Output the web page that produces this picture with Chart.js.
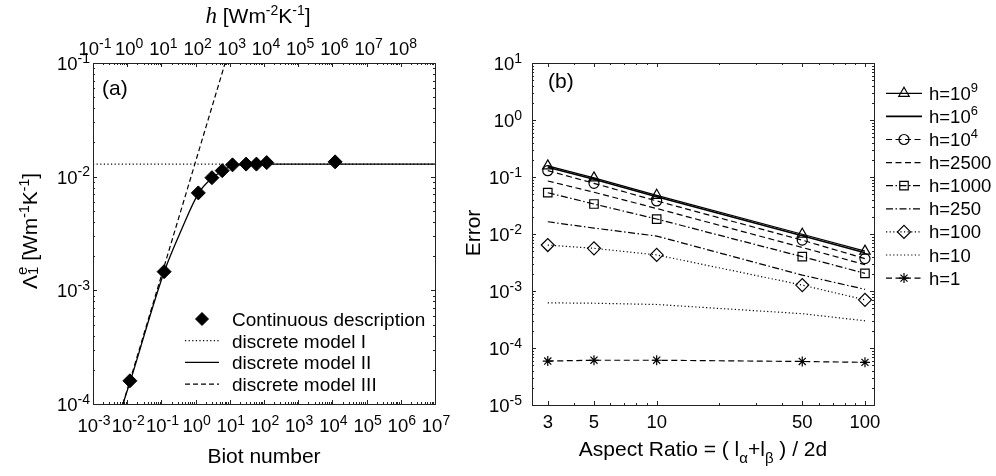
<!DOCTYPE html>
<html lang="en">
<head>
<meta charset="UTF-8">
<title>Biot number / aspect ratio error</title>
<style>
  body { margin: 0; background: #fff; }
  #wrap { position: relative; width: 996px; height: 476px; }
  #chartA { position: absolute; left: 0; top: 0; }
  #chartB { position: absolute; left: 455px; top: 0; }
</style>
</head>
<body>
<div id="wrap">
  <canvas id="chartA" width="455" height="476"></canvas>
  <canvas id="chartB" width="541" height="476"></canvas>
</div>
<script src="https://cdn.jsdelivr.net/npm/chart.js@4.4.0/dist/chart.umd.min.js"></script>
<script>
// ---- panel (a) data ----
var biotPoints   = [0.012, 0.12, 1.2, 3, 6, 12, 30, 60, 120, 12000];
var lambdaPoints = [1.6e-4, 1.46e-3, 7.2e-3, 9.8e-3, 1.13e-2, 1.27e-2, 1.29e-2, 1.29e-2, 1.33e-2, 1.35e-2];
var model1Biot   = [1e-3, 1e7];
var model1Lambda = [1.29e-2, 1.29e-2];
var model2Biot   = [0.0075, 0.012, 0.12, 0.4, 1.2, 3, 6, 12, 30, 60, 120, 1e7];
var model2Lambda = [1e-4, 1.55e-4, 1.45e-3, 3.5e-3, 7.1e-3, 9.7e-3, 1.12e-2, 1.25e-2, 1.28e-2, 1.29e-2, 1.29e-2, 1.29e-2];
var model3Biot   = [0.0075, 7.3];
var model3Lambda = [1e-4, 1e-1];
var legendA = ['Continuous description', 'discrete model I', 'discrete model II', 'discrete model III'];

var biotExp   = [-3, -2, -1, 0, 1, 2, 3, 4, 5, 6, 7];
var hExp      = [-1, 0, 1, 2, 3, 4, 5, 6, 7, 8];
var lambdaExp = [-1, -2, -3, -4];

// ---- panel (b) data ----
var aspectRatio = [3, 5, 10, 50, 100];
var err_h1e9  = [0.157, 0.0965, 0.0477, 0.0099, 0.0050];
var err_h1e6  = [0.148, 0.091, 0.045, 0.0093, 0.0047];
var err_h1e4  = [0.129, 0.0775, 0.038, 0.0078, 0.0037];
var err_h2500 = [0.085, 0.054, 0.028, 0.0058, 0.0029];
var err_h1000 = [0.053, 0.0336, 0.0183, 0.0040, 0.00204];
var err_h250  = [0.0164, 0.0127, 0.0092, 0.0019, 0.00107];
var err_h100  = [0.0064, 0.0056, 0.0043, 0.00127, 0.0007];
var err_h10   = [6.2e-4, 6.1e-4, 5.8e-4, 4.0e-4, 3.0e-4];
var err_h1    = [5.9e-5, 6.1e-5, 6.1e-5, 5.8e-5, 5.6e-5];
var aspectTicks = [3, 5, 10, 50, 100];
var errorExp = [1, 0, -1, -2, -3, -4, -5];

var FONT = '"Liberation Sans", Arial, Helvetica, sans-serif';
var TICK = 18.5;

function pairs(xs, ys) {
    return xs.map(function (x, i) { return {x: x, y: ys[i]}; });
}

function setFont(ctx, p) {
    ctx.font = (p.st || '') + ' ' + p.s + 'px ' + (p.fam || FONT);
}

// draws text made of parts (normal / super / subscript)
function rich(ctx, parts, x, y, align) {
    var w = 0;
    parts.forEach(function (p) {
        setFont(ctx, p);
        p.w = ctx.measureText(p.t).width;
        if (!p.keep) w += p.w;
    });
    var cx = align === 'center' ? x - w / 2 : (align === 'right' ? x - w : x);
    ctx.textAlign = 'left';
    ctx.textBaseline = 'alphabetic';
    parts.forEach(function (p) {
        setFont(ctx, p);
        ctx.fillText(p.t, cx, y + (p.dy || 0));
        if (!p.keep) cx += p.w;
    });
}

function pow10(e, size) {
    return [{t: '10', s: size}, {t: String(e), s: 14, dy: -7.5}];
}

// "h=10^9" -> parts
function labelParts(str, size) {
    var k = str.indexOf('^');
    if (k < 0) return [{t: str, s: size}];
    return [{t: str.slice(0, k), s: size}, {t: str.slice(k + 1), s: size * 0.7, dy: -size * 0.42}];
}

function logRange(min, max) {
    var major = [], minor = [];
    for (var e = Math.floor(Math.log10(min)) - 1; e <= Math.ceil(Math.log10(max)); e++) {
        for (var m = 1; m < 10; m++) {
            var v = m * Math.pow(10, e);
            if (v < min * 0.999 || v > max * 1.001) continue;
            (m === 1 ? major : minor).push(v);
        }
    }
    return {major: major, minor: minor};
}

function ticksX(ctx, scale, values, len, a, top, bottom) {
    ctx.beginPath();
    values.forEach(function (v) {
        var p = Math.round(scale.getPixelForValue(v)) + 0.5;
        if (bottom) { ctx.moveTo(p, a.bottom); ctx.lineTo(p, a.bottom - len); }
        if (top) { ctx.moveTo(p, a.top); ctx.lineTo(p, a.top + len); }
    });
    ctx.stroke();
}

function ticksY(ctx, scale, values, len, a) {
    ctx.beginPath();
    values.forEach(function (v) {
        var p = Math.round(scale.getPixelForValue(v)) + 0.5;
        ctx.moveTo(a.left, p); ctx.lineTo(a.left + len, p);
        ctx.moveTo(a.right, p); ctx.lineTo(a.right - len, p);
    });
    ctx.stroke();
}

function drawBox(ctx, a) {
    ctx.strokeStyle = '#222';
    ctx.lineWidth = 1;
    ctx.strokeRect(Math.round(a.left) + 0.5, Math.round(a.top) + 0.5,
        Math.round(a.right - a.left), Math.round(a.bottom - a.top));
}

function drawMarker(ctx, style, x, y, r, fill) {
    ctx.beginPath();
    if (style === 'circle') {
        ctx.arc(x, y, r, 0, Math.PI * 2);
    } else if (style === 'triangle') {
        ctx.moveTo(x, y - r); ctx.lineTo(x + 0.866 * r, y + 0.5 * r); ctx.lineTo(x - 0.866 * r, y + 0.5 * r); ctx.closePath();
    } else if (style === 'rect') {
        var s = r * Math.SQRT1_2;
        ctx.rect(x - s, y - s, 2 * s, 2 * s);
    } else if (style === 'rectRot') {
        ctx.moveTo(x - r, y); ctx.lineTo(x, y - r); ctx.lineTo(x + r, y); ctx.lineTo(x, y + r); ctx.closePath();
    } else if (style === 'star') {
        for (var k = 0; k < 4; k++) {
            var ang = k * Math.PI / 4;
            ctx.moveTo(x - Math.cos(ang) * r, y - Math.sin(ang) * r);
            ctx.lineTo(x + Math.cos(ang) * r, y + Math.sin(ang) * r);
        }
    }
    if (fill) ctx.fill();
    ctx.stroke();
}

function legendLine(ctx, ds, x1, x2, y) {
    ctx.save();
    ctx.strokeStyle = '#000';
    ctx.lineWidth = ds.borderWidth || 1;
    ctx.setLineDash(ds.borderDash || []);
    ctx.beginPath(); ctx.moveTo(x1, y); ctx.lineTo(x2, y); ctx.stroke();
    ctx.restore();
}

// ---------- panel (a) ----------
var decoA = {
    id: 'decoA',
    afterDraw: function (chart) {
        var ctx = chart.ctx, a = chart.chartArea;
        var x = chart.scales.x, x2 = chart.scales.x2, y = chart.scales.y;
        ctx.save();
        ctx.fillStyle = '#000';
        drawBox(ctx, a);
        ctx.lineWidth = 1;
        var bx = logRange(x.min, x.max), hx = logRange(x2.min, x2.max), ly = logRange(y.min, y.max);
        ticksX(ctx, x, bx.major, 4, a, false, true);
        ticksX(ctx, x, bx.minor, 2, a, false, true);
        ticksX(ctx, x2, hx.major, 4, a, true, false);
        ticksX(ctx, x2, hx.minor, 2, a, true, false);
        ticksY(ctx, y, ly.major, 4, a);
        ticksY(ctx, y, ly.minor, 2, a);

        biotExp.forEach(function (e) {
            rich(ctx, pow10(e, TICK), x.getPixelForValue(Math.pow(10, e)) + 1, 432, 'center');
        });
        hExp.forEach(function (e) {
            rich(ctx, pow10(e, TICK), x2.getPixelForValue(Math.pow(10, e)) + 2, 55, 'center');
        });
        lambdaExp.forEach(function (e) {
            rich(ctx, pow10(e, TICK), 90, y.getPixelForValue(Math.pow(10, e)) + 7, 'right');
        });

        // axis titles
        rich(ctx, [{t: 'Biot number', s: 21}], (a.left + a.right) / 2, 463, 'center');
        rich(ctx, [{t: 'h', s: 23, st: 'italic', fam: '"Liberation Serif", "DejaVu Serif", serif'},
                   {t: ' [Wm', s: 21}, {t: '-2', s: 14, dy: -8}, {t: 'K', s: 21}, {t: '-1', s: 14, dy: -8}, {t: ']', s: 21}],
            258, 23, 'center');
        ctx.save();
        ctx.translate(37, 231);
        ctx.rotate(-Math.PI / 2);
        rich(ctx, [{t: '\u039B', s: 21}, {t: '1', s: 15, dy: 1, keep: true}, {t: 'e', s: 15, dy: -10},
                   {t: ' [Wm', s: 21}, {t: '-1', s: 14, dy: -8}, {t: 'K', s: 21}, {t: '-1', s: 14, dy: -8}, {t: ']', s: 21}],
            0, 0, 'center');
        ctx.restore();
        rich(ctx, [{t: '(a)', s: 21}], 102, 95, 'left');

        // legend
        var ds = chart.data.datasets;
        var rows = [ds[3], ds[0], ds[1], ds[2]];
        rows.forEach(function (d, i) {
            var ry = 319 + i * 21.7;
            if (d.showLine === false) {
                ctx.strokeStyle = '#000'; ctx.fillStyle = '#000';
                drawMarker(ctx, 'rectRot', 202, ry, 6.5, true);
            } else {
                legendLine(ctx, d, 185, 219, ry);
            }
            ctx.fillStyle = '#000';
            rich(ctx, [{t: legendA[i], s: 19}], 232, ry + 7, 'left');
        });
        ctx.restore();
    }
};

new Chart(document.getElementById('chartA'), {
    type: 'line',
    data: {
        datasets: [
            {label: legendA[1], data: pairs(model1Biot, model1Lambda), borderColor: '#000', borderWidth: 1.2,
             borderDash: [1.2, 2.4], pointRadius: 0},
            {label: legendA[2], data: pairs(model2Biot, model2Lambda), borderColor: '#000', borderWidth: 1.3,
             pointRadius: 0, cubicInterpolationMode: 'monotone'},
            {label: legendA[3], data: pairs(model3Biot, model3Lambda), borderColor: '#000', borderWidth: 1.2,
             borderDash: [5, 3], pointRadius: 0},
            {label: legendA[0], data: pairs(biotPoints, lambdaPoints), showLine: false, pointStyle: 'rectRot',
             pointRadius: 7, backgroundColor: '#000', borderColor: '#000'}
        ]
    },
    options: {
        responsive: false,
        animation: false,
        layout: {padding: {left: 93, top: 63, right: 20, bottom: 72}},
        plugins: {legend: {display: false}, tooltip: {enabled: false}},
        scales: {
            x: {type: 'logarithmic', min: 1e-3, max: 1e7, display: false},
            x2: {type: 'logarithmic', axis: 'x', position: 'top', min: 1e-1, max: 1e9, display: false},
            y: {type: 'logarithmic', min: 1e-4, max: 1e-1, display: false}
        }
    },
    plugins: [decoA]
});

// ---------- panel (b) ----------
var decoB = {
    id: 'decoB',
    afterDraw: function (chart) {
        var ctx = chart.ctx, a = chart.chartArea, x = chart.scales.x, y = chart.scales.y;
        ctx.save();
        ctx.fillStyle = '#000';
        drawBox(ctx, a);
        ctx.lineWidth = 1;
        var lx = logRange(x.min, x.max), ly = logRange(y.min, y.max);
        var allX = lx.major.concat(lx.minor);
        var minorX = allX.filter(function (v) { return aspectTicks.indexOf(Math.round(v)) < 0; });
        ticksX(ctx, x, aspectTicks, 4, a, true, true);
        ticksX(ctx, x, minorX, 2, a, true, true);
        ticksY(ctx, y, ly.major, 4, a);
        ticksY(ctx, y, ly.minor, 2, a);

        aspectTicks.forEach(function (v) {
            rich(ctx, [{t: String(v), s: TICK}], x.getPixelForValue(v), 428, 'center');
        });
        errorExp.forEach(function (e) {
            rich(ctx, pow10(e, TICK), 67, y.getPixelForValue(Math.pow(10, e)) + 7, 'right');
        });

        rich(ctx, [{t: 'Aspect Ratio = ( l', s: 21}, {t: '\u03B1', s: 15, dy: 7}, {t: '+l', s: 21},
                   {t: '\u03B2', s: 15, dy: 7}, {t: ' ) / 2d', s: 21}], (a.left + a.right) / 2, 456, 'center');
        ctx.save();
        ctx.translate(25, 233);
        ctx.rotate(-Math.PI / 2);
        rich(ctx, [{t: 'Error', s: 21}], 0, 0, 'center');
        ctx.restore();
        rich(ctx, [{t: '(b)', s: 21}], 93, 88, 'left');

        // legend
        chart.data.datasets.forEach(function (d, i) {
            var ry = 93.3 + i * 23.1;
            legendLine(ctx, d, 431, 467, ry);
            if (d.pointRadius > 0) {
                ctx.strokeStyle = '#000';
                ctx.lineWidth = d.pointBorderWidth || 1;
                ctx.setLineDash([]);
                drawMarker(ctx, d.pointStyle, 449, ry, d.pointRadius, false);
            }
            ctx.fillStyle = '#000';
            rich(ctx, labelParts(d.label, 18.5), 474, ry + 6.5, 'left');
        });
        ctx.restore();
    }
};

function series(label, ys, width, dash, style, radius) {
    return {
        label: label, data: pairs(aspectRatio, ys), borderColor: '#000', borderWidth: width,
        borderDash: dash, pointStyle: style || 'circle', pointRadius: radius || 0,
        pointBorderColor: '#000', pointBackgroundColor: 'rgba(0,0,0,0)', pointBorderWidth: 1.2
    };
}

var dashed = [6, 3.5], dashDot = [7, 2.5, 1.5, 2.5], dotted = [1.2, 2.4];

new Chart(document.getElementById('chartB'), {
    type: 'line',
    data: {
        datasets: [
            series('h=10^9', err_h1e9, 1.2, [], 'triangle', 6),
            series('h=10^6', err_h1e6, 1.6, []),
            series('h=10^4', err_h1e4, 1.2, dashed, 'circle', 5),
            series('h=2500', err_h2500, 1.2, dashed),
            series('h=1000', err_h1000, 1.2, dashDot, 'rect', 6),
            series('h=250', err_h250, 1.2, dashDot),
            series('h=100', err_h100, 1.2, dotted, 'rectRot', 6.5),
            series('h=10', err_h10, 1.2, dotted),
            series('h=1', err_h1, 1.2, dashed, 'star', 5)
        ]
    },
    options: {
        responsive: false,
        animation: false,
        layout: {padding: {left: 77, top: 63, right: 122, bottom: 71}},
        plugins: {legend: {display: false}, tooltip: {enabled: false}},
        scales: {
            x: {type: 'logarithmic', min: 2.52, max: 110.5, display: false},
            y: {type: 'logarithmic', min: 1e-5, max: 10, display: false}
        }
    },
    plugins: [decoB]
});
</script>
</body>
</html>
